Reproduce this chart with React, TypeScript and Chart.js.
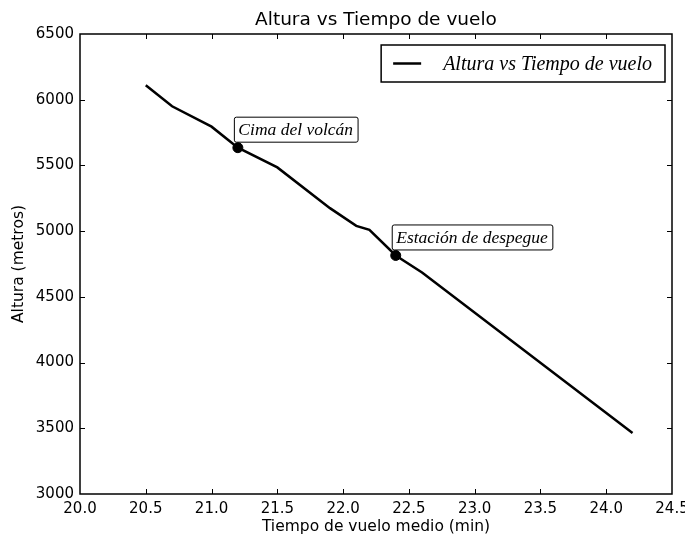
import { useEffect, useRef } from 'react';
import { Chart, registerables } from 'chart.js';

Chart.register(...registerables);

// ---- data ----
const timeMin = [20.5, 20.7, 21.0, 21.2, 21.5, 21.9, 22.1, 22.2, 22.4, 22.6, 24.2];
const altitude = [6110, 5950, 5795, 5635, 5485, 5175, 5040, 5010, 4815, 4685, 3465];
const markerTime = [21.2, 22.4];
const markerAltitude = [5635, 4815];
const markerLabels = ['Cima del volcán', 'Estación de despegue'];
const seriesLabel = 'Altura vs Tiempo de vuelo';
const chartTitle = 'Altura vs Tiempo de vuelo';
const xAxisTitle = 'Tiempo de vuelo medio (min)';
const yAxisTitle = 'Altura (metros)';
const xRange = [20, 24.5];
const yRange = [3000, 6500];

const SANS = '"DejaVu Sans", sans-serif';
const SERIF_ITALIC = 'italic 17.5px "Liberation Serif", serif';
const LEGEND_FONT = 'italic 20px "Liberation Serif", serif';

const decorPlugin = {
  id: 'decor',
  afterDraw(chart: any) {
    const ctx = chart.ctx;
    const { left, right, top, bottom } = chart.chartArea;
    const xs = chart.scales.x;
    const ys = chart.scales.y;
    ctx.save();
    // frame
    ctx.strokeStyle = '#000';
    ctx.lineWidth = 1.5;
    ctx.strokeRect(left, top, right - left, bottom - top);
    // inward ticks on all four sides
    ctx.lineWidth = 1;
    const tl = 5;
    xs.ticks.forEach((t: any) => {
      const p = Math.round(xs.getPixelForValue(t.value)) + 0.5;
      if (p <= left + 1 || p >= right - 1) return;
      ctx.beginPath();
      ctx.moveTo(p, bottom);
      ctx.lineTo(p, bottom - tl);
      ctx.moveTo(p, top);
      ctx.lineTo(p, top + tl);
      ctx.stroke();
    });
    ys.ticks.forEach((t: any) => {
      const p = Math.round(ys.getPixelForValue(t.value)) + 0.5;
      if (p <= top + 1 || p >= bottom - 1) return;
      ctx.beginPath();
      ctx.moveTo(left, p);
      ctx.lineTo(left + tl, p);
      ctx.moveTo(right, p);
      ctx.lineTo(right - tl, p);
      ctx.stroke();
    });

    // annotation labels
    ctx.font = SERIF_ITALIC;
    ctx.textBaseline = 'middle';
    ctx.textAlign = 'left';
    markerLabels.forEach((lab, i) => {
      const px = xs.getPixelForValue(markerTime[i]);
      const py = ys.getPixelForValue(markerAltitude[i]);
      const tw = ctx.measureText(lab).width;
      const bx = px - 4;
      const bh = 25;
      const by = py - 6 - bh;
      const bw = tw + 9;
      ctx.fillStyle = '#fff';
      ctx.fillRect(bx, by, bw, bh);
      ctx.strokeStyle = '#000';
      ctx.lineWidth = 1;
      ctx.beginPath();
      (ctx as any).roundRect ? (ctx as any).roundRect(bx + 0.5, by + 0.5, bw, bh, 2) : ctx.rect(bx + 0.5, by + 0.5, bw, bh);
      ctx.stroke();
      ctx.fillStyle = '#000';
      ctx.fillText(lab, bx + 4.5, by + bh / 2 + 1);
    });

    // legend box (inside plot, upper right)
    const label = chart.data.datasets[0].label as string;
    ctx.font = LEGEND_FONT;
    const ltw = ctx.measureText(label).width;
    const lw = 62 + ltw + 13;
    const lh = 37;
    const lr = right - 7;
    const ll = lr - lw;
    const lt = top + 11;
    ctx.fillStyle = '#fff';
    ctx.fillRect(ll, lt, lw, lh);
    ctx.strokeStyle = '#000';
    ctx.lineWidth = 1.5;
    ctx.strokeRect(ll, lt, lw, lh);
    const cy = lt + lh / 2;
    ctx.lineWidth = 2.5;
    ctx.beginPath();
    ctx.moveTo(ll + 12, cy);
    ctx.lineTo(ll + 40, cy);
    ctx.stroke();
    ctx.fillStyle = '#000';
    ctx.fillText(label, ll + 62, cy + 1);
    ctx.restore();
  },
};

export default function App() {
  const ref = useRef<HTMLCanvasElement | null>(null);
  useEffect(() => {
    if (!ref.current) return;
    const chart = new Chart(ref.current, {
      type: 'line',
      data: {
        datasets: [
          {
            label: seriesLabel,
            data: timeMin.map((t, i) => ({ x: t, y: altitude[i] })),
            borderColor: '#000',
            borderWidth: 2.5,
            pointRadius: 0,
            tension: 0,
            fill: false,
          },
          {
            label: 'markers',
            data: markerTime.map((t, i) => ({ x: t, y: markerAltitude[i] })),
            showLine: false,
            pointRadius: 5,
            pointBackgroundColor: '#000',
            pointBorderColor: '#000',
            borderColor: '#000',
          },
        ],
      },
      options: {
        responsive: false,
        animation: false,
        devicePixelRatio: 1,
        layout: { padding: { left: 0, right: 13, top: 0, bottom: 0 } },
        plugins: {
          legend: { display: false },
          tooltip: { enabled: false },
          title: {
            display: true,
            text: chartTitle,
            fullSize: false,
            color: '#000',
            font: { family: SANS, size: 18.5, weight: 'normal' },
            padding: { top: 9, bottom: 2.8 },
          },
        },
        scales: {
          x: {
            type: 'linear',
            min: xRange[0],
            max: xRange[1],
            grid: { display: false, drawTicks: false },
            border: { display: false },
            ticks: {
              stepSize: 0.5,
              padding: 6,
              color: '#000',
              font: { family: SANS, size: 15 },
              maxRotation: 0,
              callback: (v: any) => Number(v).toFixed(1),
            },
            title: {
              display: true,
              text: xAxisTitle,
              color: '#000',
              font: { family: SANS, size: 15.5 },
              padding: { top: 0, bottom: 4 },
            },
            afterFit: (s: any) => {
              s.height = 46;
              s.paddingLeft = 0;
              s.paddingRight = 0;
            },
          },
          y: {
            type: 'linear',
            min: yRange[0],
            max: yRange[1],
            grid: { display: false, drawTicks: false },
            border: { display: false },
            ticks: {
              stepSize: 500,
              padding: 6,
              color: '#000',
              font: { family: SANS, size: 15 },
              callback: (v: any) => String(v),
            },
            title: {
              display: true,
              text: yAxisTitle,
              color: '#000',
              font: { family: SANS, size: 15.5 },
              padding: { top: 10, bottom: 0 },
            },
            afterFit: (s: any) => {
              s.width = 80;
              s.paddingTop = 0;
              s.paddingBottom = 0;
            },
          },
        },
      } as any,
      plugins: [decorPlugin],
    });
    return () => chart.destroy();
  }, []);
  return (
    <div style={{ position: 'absolute', left: 0, top: 0, width: 685, height: 540, background: '#fff' }}>
      <canvas ref={ref} width={685} height={540} style={{ display: 'block' }} />
    </div>
  );
}
